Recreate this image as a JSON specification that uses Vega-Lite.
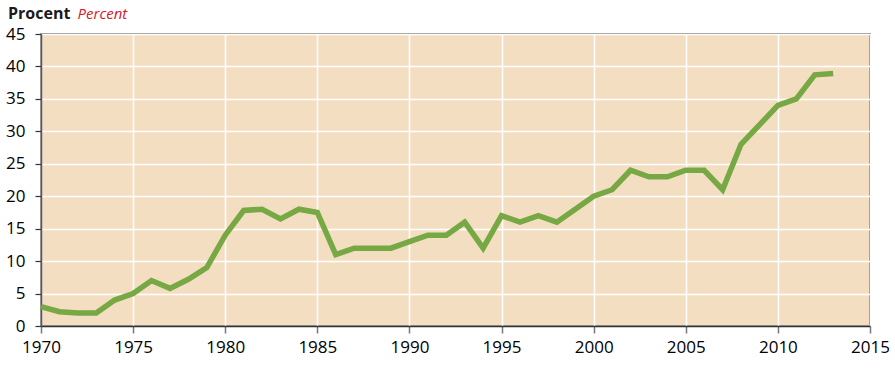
{
  "$schema": "https://vega.github.io/schema/vega-lite/v6.json",
  "autosize": "none",
  "width": 829,
  "height": 292,
  "padding": {"left": 41, "top": 34, "right": 25, "bottom": 50},
  "background": "white",
  "title": {"text": "Procent", "anchor": "start", "frame": "group", "dx": -33, "dy": 27, "offset": 11, "fontSize": 16, "fontWeight": "bold", "font": "Open Sans", "color": "#1a1a1a"},
  "config": {
    "view": {"fill": "#F4DEC2", "stroke": "#666666", "strokeWidth": 1.5},
    "axis": {"labelFont": "Open Sans", "labelFontSize": 17, "labelColor": "#000000", "gridColor": "#ffffff", "gridWidth": 1.5, "gridOpacity": 1}
  },
  "data": {"values": [
    {"year": 1970, "value": 3.0}, {"year": 1971, "value": 2.2}, {"year": 1972, "value": 2.0}, {"year": 1973, "value": 2.0},
    {"year": 1974, "value": 4.0}, {"year": 1975, "value": 5.0}, {"year": 1976, "value": 7.0}, {"year": 1977, "value": 5.8},
    {"year": 1978, "value": 7.2}, {"year": 1979, "value": 9.0}, {"year": 1980, "value": 14.0}, {"year": 1981, "value": 17.8},
    {"year": 1982, "value": 18.0}, {"year": 1983, "value": 16.5}, {"year": 1984, "value": 18.0}, {"year": 1985, "value": 17.5},
    {"year": 1986, "value": 11.0}, {"year": 1987, "value": 12.0}, {"year": 1988, "value": 12.0}, {"year": 1989, "value": 12.0},
    {"year": 1990, "value": 13.0}, {"year": 1991, "value": 14.0}, {"year": 1992, "value": 14.0}, {"year": 1993, "value": 16.0},
    {"year": 1994, "value": 12.0}, {"year": 1995, "value": 17.0}, {"year": 1996, "value": 16.0}, {"year": 1997, "value": 17.0},
    {"year": 1998, "value": 16.0}, {"year": 1999, "value": 18.0}, {"year": 2000, "value": 20.0}, {"year": 2001, "value": 21.0},
    {"year": 2002, "value": 24.0}, {"year": 2003, "value": 23.0}, {"year": 2004, "value": 23.0}, {"year": 2005, "value": 24.0},
    {"year": 2006, "value": 24.0}, {"year": 2007, "value": 21.0}, {"year": 2008, "value": 28.0}, {"year": 2009, "value": 31.0},
    {"year": 2010, "value": 34.0}, {"year": 2011, "value": 35.0}, {"year": 2012, "value": 38.7}, {"year": 2013, "value": 38.9}
  ]},
  "layer": [
    {
      "mark": {"type": "line", "color": "#76A844", "strokeWidth": 5.5, "strokeJoin": "miter", "strokeCap": "butt"},
      "encoding": {
        "x": {"field": "year", "type": "quantitative", "scale": {"domain": [1970, 2015], "nice": false, "zero": false},
          "axis": {"values": [1970, 1975, 1980, 1985, 1990, 1995, 2000, 2005, 2010, 2015], "format": "d", "title": null,
            "domainColor": "#333333", "domainWidth": 1.5, "tickColor": "#777777", "tickSize": 7, "tickWidth": 1.5, "labelPadding": 6, "labelFlush": false}},
        "y": {"field": "value", "type": "quantitative", "scale": {"domain": [0, 45], "nice": false},
          "axis": {"values": [0, 5, 10, 15, 20, 25, 30, 35, 40, 45], "title": "Percent", "titleAngle": 0, "titleX": 36, "titleY": -16,
            "titleAlign": "left", "titleBaseline": "alphabetic", "titleFont": "Open Sans", "titleFontSize": 15, "titleFontWeight": "normal", "titleFontStyle": "italic", "titleColor": "#D7182A",
            "domainColor": "#555555", "domainWidth": 1.5, "tickColor": "#333333", "tickSize": 6, "tickWidth": 1.2, "labelPadding": 10}}
      }
    }
  ]
}
